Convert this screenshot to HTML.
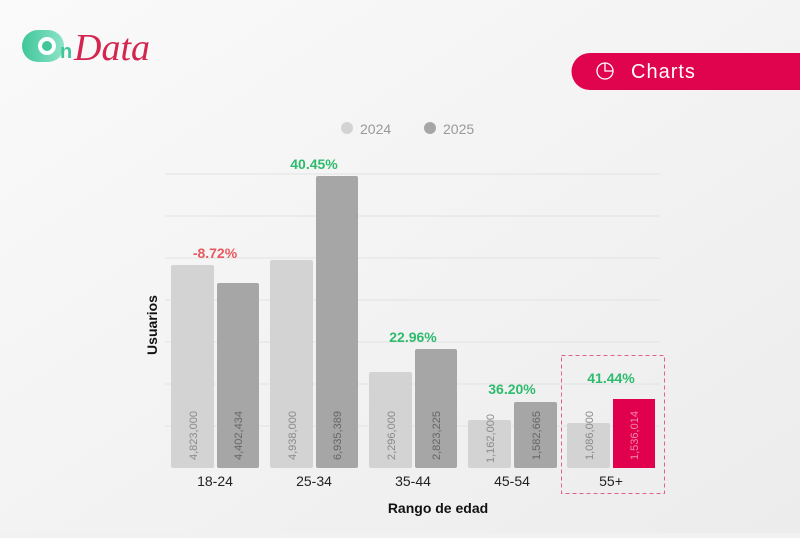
<!DOCTYPE html>
<html><head><meta charset="utf-8"><style>
body{margin:0;width:800px;height:533px;overflow:hidden;background:#f1f1f1;font-family:"Liberation Sans",sans-serif;}
</style></head><body>
<svg width="800" height="533" xmlns="http://www.w3.org/2000/svg">
<defs><linearGradient id="bg" x1="0" y1="0" x2="1" y2="1"><stop offset="0" stop-color="#fafafa"/><stop offset="1" stop-color="#ececec"/></linearGradient>
<linearGradient id="gr" x1="0" x2="1"><stop offset="0" stop-color="#3fc79a"/><stop offset="1" stop-color="#8fe3c8"/></linearGradient></defs>
<rect width="800" height="533" fill="url(#bg)"/>
<!-- logo -->
<rect x="22" y="30" width="42" height="32" rx="16" fill="url(#gr)"/>
<circle cx="47" cy="46" r="9" fill="#fff"/><circle cx="47" cy="46" r="5" fill="#3fc79a"/>
<text x="60" y="58" font-size="20" font-weight="bold" fill="#3fc79a">n</text>
<text x="74" y="60" font-size="38" font-style="italic" fill="#d3254f" font-family="Liberation Serif,serif">Data</text>
<!-- charts badge -->
<path d="M590 53 H800 V90 H590 A18.5 18.5 0 0 1 590 53 Z" fill="#e0044e"/>
<circle cx="605" cy="71" r="8" fill="none" stroke="#fff" stroke-width="1.3"/>
<path d="M605 63 V71 H613" fill="none" stroke="#fff" stroke-width="1.3"/>
<text x="631" y="78" font-size="20" fill="#fff" letter-spacing="1">Charts</text>
<!-- legend -->
<circle cx="347" cy="128" r="6" fill="#d3d3d3"/><text x="360" y="134" font-size="14" fill="#999">2024</text>
<circle cx="430" cy="128" r="6" fill="#a6a6a6"/><text x="443" y="134" font-size="14" fill="#999">2025</text>
<!-- grid -->
<g stroke="#e2e2e2" stroke-width="1">
<line x1="165" x2="660" y1="426" y2="426"/><line x1="165" x2="660" y1="384" y2="384"/><line x1="165" x2="660" y1="342" y2="342"/><line x1="165" x2="660" y1="300" y2="300"/><line x1="165" x2="660" y1="258" y2="258"/><line x1="165" x2="660" y1="216" y2="216"/><line x1="165" x2="660" y1="174" y2="174"/>
</g>
<!-- bars -->
<g>
<rect x="171" y="265" width="43" height="203" rx="2" fill="#d3d3d3"/><rect x="217" y="283" width="42" height="185" rx="2" fill="#a6a6a6"/>
<rect x="270" y="260" width="43" height="208" rx="2" fill="#d3d3d3"/><rect x="316" y="176" width="42" height="292" rx="2" fill="#a6a6a6"/>
<rect x="369" y="372" width="43" height="96" rx="2" fill="#d3d3d3"/><rect x="415" y="349" width="42" height="119" rx="2" fill="#a6a6a6"/>
<rect x="468" y="420" width="43" height="48" rx="2" fill="#d3d3d3"/><rect x="514" y="402" width="43" height="66" rx="2" fill="#a6a6a6"/>
<rect x="567" y="423" width="43" height="45" rx="2" fill="#d3d3d3"/><rect x="613" y="399" width="42" height="69" fill="#e0004d"/>
</g>
<g font-size="11" fill="#8a8a8a">
<text transform="translate(197,460) rotate(-90)">4,823,000</text>
<text transform="translate(242,460) rotate(-90)" fill="#666">4,402,434</text>
<text transform="translate(296,460) rotate(-90)">4,938,000</text>
<text transform="translate(341,460) rotate(-90)" fill="#666">6,935,389</text>
<text transform="translate(395,460) rotate(-90)">2,296,000</text>
<text transform="translate(440,460) rotate(-90)" fill="#666">2,823,225</text>
<text transform="translate(494,463) rotate(-90)">1,162,000</text>
<text transform="translate(540,460) rotate(-90)" fill="#666">1,582,665</text>
<text transform="translate(593,460) rotate(-90)">1,086,000</text>
<text transform="translate(638,460) rotate(-90)" fill="#f48aa8">1,536,014</text>
</g>
<g font-size="14" font-weight="bold" text-anchor="middle">
<text x="215" y="258" fill="#e8585e">-8.72%</text>
<text x="314" y="169" fill="#2dbb6d">40.45%</text>
<text x="413" y="342" fill="#2dbb6d">22.96%</text>
<text x="512" y="394" fill="#2dbb6d">36.20%</text>
<text x="611" y="383" fill="#2dbb6d">41.44%</text>
</g>
<g font-size="14" fill="#222" text-anchor="middle">
<text x="215" y="486">18-24</text><text x="314" y="486">25-34</text><text x="413" y="486">35-44</text><text x="512" y="486">45-54</text><text x="611" y="486">55+</text>
</g>
<rect x="561.5" y="355.5" width="103" height="138" fill="none" stroke="#e0608a" stroke-dasharray="4,3"/>
<text x="438" y="513" font-size="14" font-weight="bold" text-anchor="middle" fill="#111">Rango de edad</text>
<text transform="translate(157,325) rotate(-90)" font-size="14" font-weight="bold" text-anchor="middle" fill="#111">Usuarios</text>
</svg>
</body></html>
